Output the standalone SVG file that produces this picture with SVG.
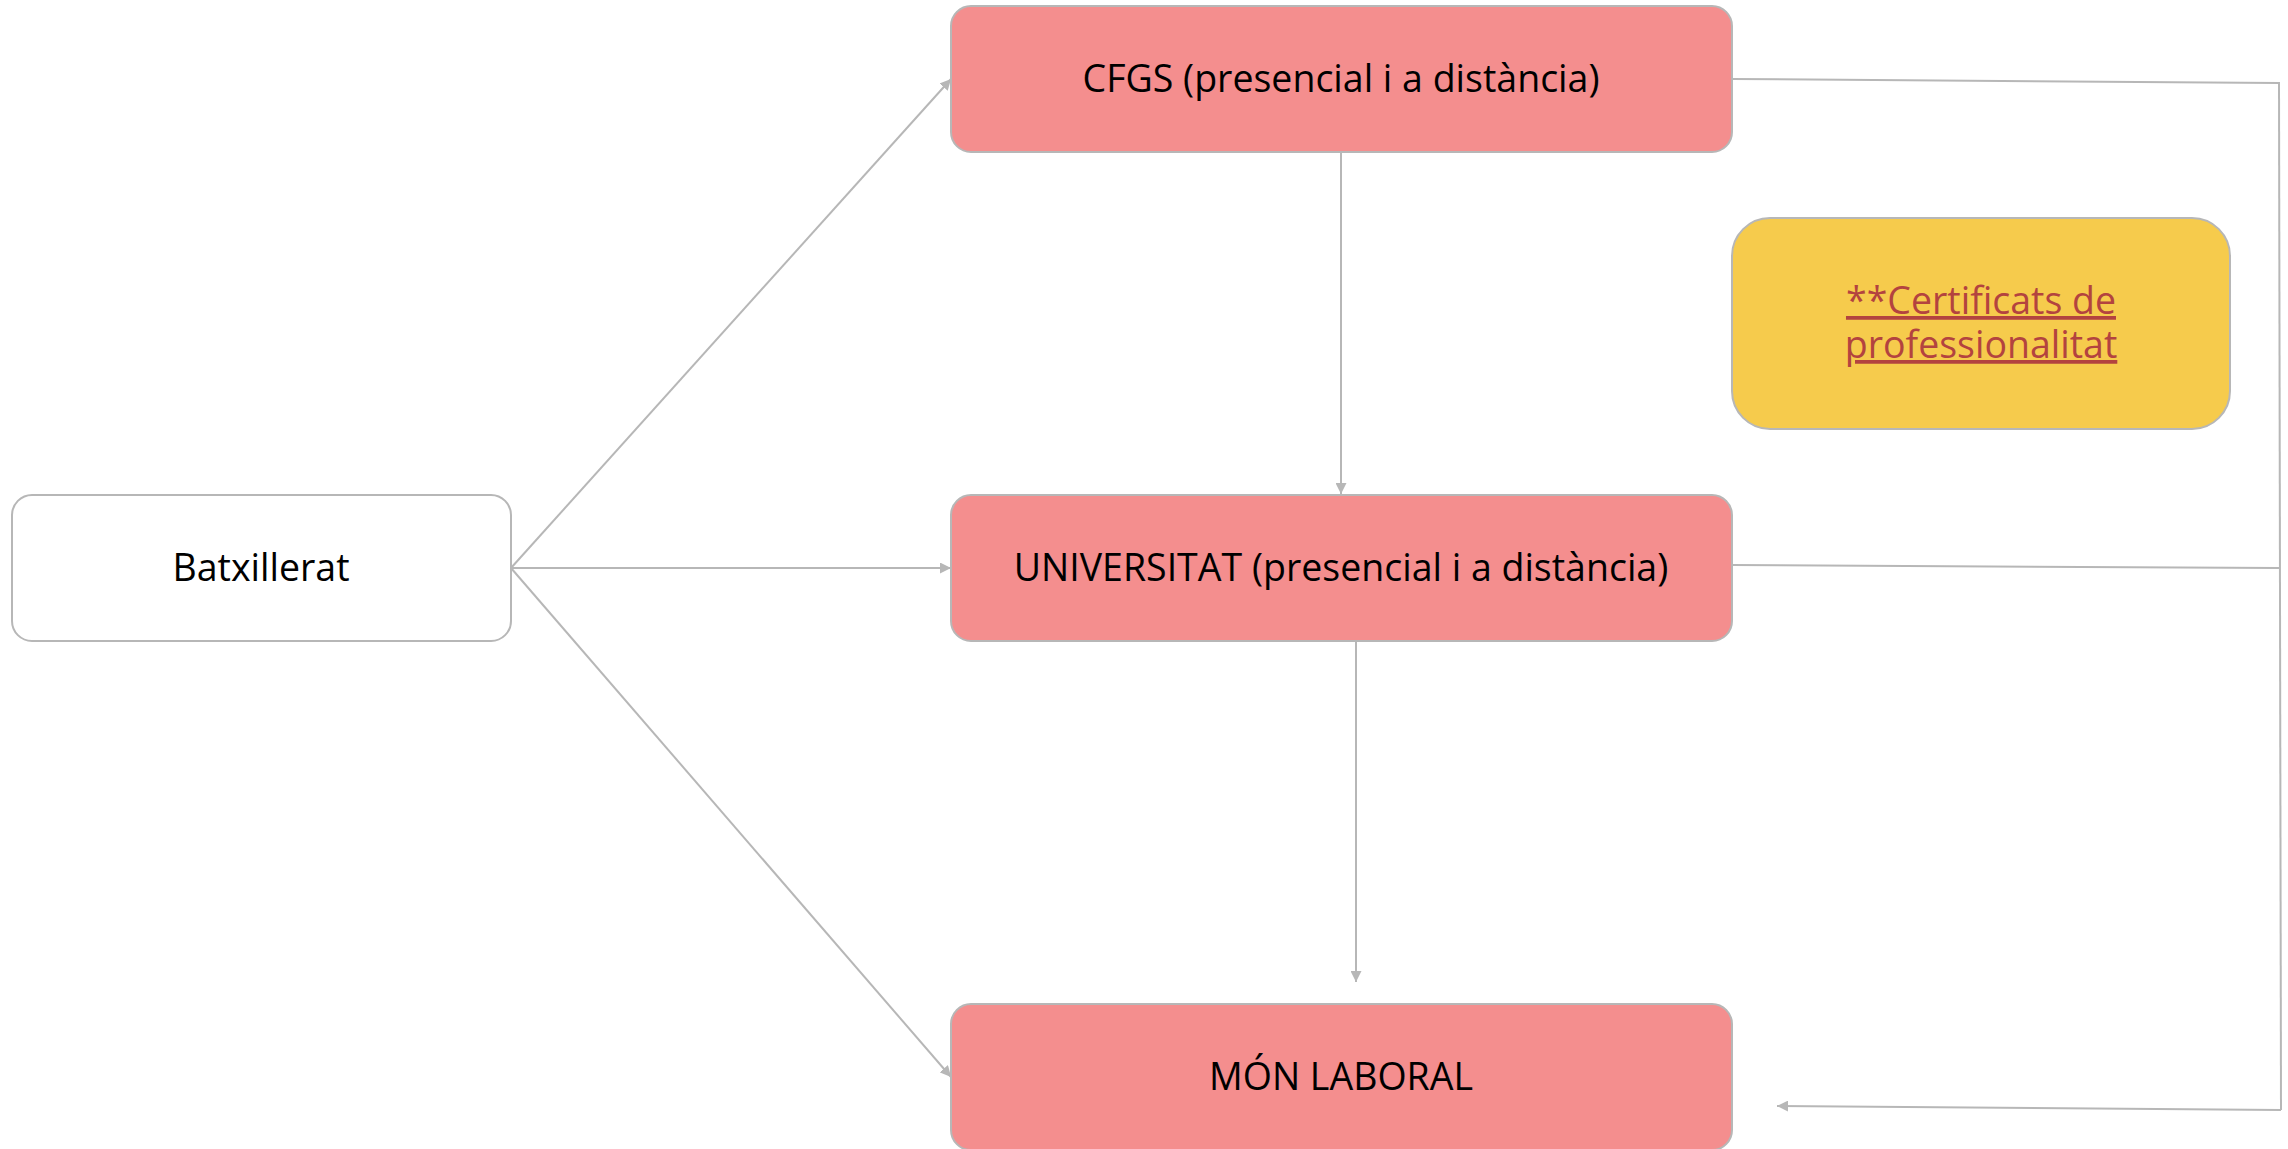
<svg xmlns="http://www.w3.org/2000/svg" width="2288" height="1149" viewBox="0 0 2288 1149">
<style>
.box{stroke:#b7b7b7;stroke-width:2}
.pink{fill:#f48e8e}
.white{fill:#ffffff}
.yellow{fill:#f6cb4c}
.lbl{font-family:"Open Sans","Noto Sans",sans-serif;font-size:37.5px;fill:#000000;text-anchor:middle}
.link{font-family:"Open Sans","Noto Sans",sans-serif;font-size:37.5px;fill:#b3433f;text-anchor:middle;text-decoration:underline}
.con{stroke:#b7b7b7;stroke-width:2;fill:none}
</style>
<defs>
<marker id="arr" viewBox="0 0 10 10" refX="10" refY="5" markerWidth="5.5" markerHeight="5.5" orient="auto" markerUnits="strokeWidth">
<path d="M0,0 L10,5 L0,10 z" fill="#b7b7b7"/>
</marker>
</defs>
<rect width="2288" height="1149" fill="#ffffff"/>
<g id="connectors">
<line class="con" x1="511" y1="568" x2="951" y2="79" marker-end="url(#arr)"/>
<line class="con" x1="511" y1="568" x2="951" y2="568" marker-end="url(#arr)"/>
<line class="con" x1="511" y1="568" x2="951" y2="1077" marker-end="url(#arr)"/>
<line class="con" x1="1341" y1="152" x2="1341" y2="494" marker-end="url(#arr)"/>
<line class="con" x1="1356" y1="641" x2="1356" y2="982" marker-end="url(#arr)"/>
<line class="con" x1="1732" y1="79" x2="2279" y2="83"/>
<line class="con" x1="1732" y1="565" x2="2279" y2="568"/>
<line class="con" x1="2279" y1="82" x2="2281" y2="1110"/>
<line class="con" x1="2281" y1="1110" x2="1777" y2="1106" marker-end="url(#arr)"/>
</g>
<g id="cfgs">
<rect class="box pink" x="951" y="6" width="781" height="146" rx="20"/>
<text class="lbl" x="1341" y="92">CFGS (presencial i a distància)</text>
</g>
<g id="certificats">
<rect class="box yellow" x="1732" y="218" width="498" height="211" rx="38"/>
<text class="link" x="1981" y="314">**Certificats de</text>
<text class="link" x="1981" y="358">professionalitat</text>
</g>
<g id="batxillerat">
<rect class="box white" x="12" y="495" width="499" height="146" rx="20"/>
<text class="lbl" x="261" y="581">Batxillerat</text>
</g>
<g id="universitat">
<rect class="box pink" x="951" y="495" width="781" height="146" rx="20"/>
<text class="lbl" x="1341" y="581">UNIVERSITAT (presencial i a distància)</text>
</g>
<g id="mon-laboral">
<rect class="box pink" x="951" y="1004" width="781" height="146" rx="20"/>
<text class="lbl" x="1341" y="1090">MÓN LABORAL</text>
</g>
</svg>
